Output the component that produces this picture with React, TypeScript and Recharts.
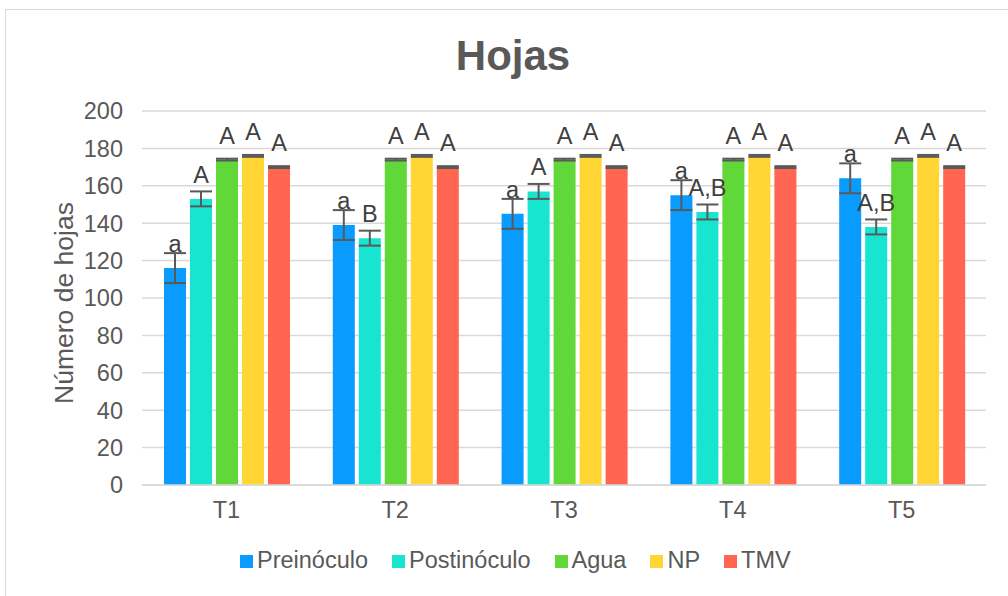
import { BarChart, Bar, XAxis, YAxis, CartesianGrid, Legend, ErrorBar, LabelList } from "recharts";

const categories = ["T1", "T2", "T3", "T4", "T5"];

const preinoculo = [116, 139, 145, 155, 164];
const preinoculoErr = [8, 8, 8, 8, 8];
const preinoculoLetters = ["a", "a", "a", "a", "a"];

const postinoculo = [153, 132, 157, 146, 138];
const postinoculoErr = [4, 4, 4, 4, 4];
const postinoculoLetters = ["A", "B", "A", "A,B", "A,B"];

const agua = [174, 174, 174, 174, 174];
const aguaErr = [0.5, 0.5, 0.5, 0.5, 0.5];
const aguaLetters = ["A", "A", "A", "A", "A"];

const np = [176, 176, 176, 176, 176];
const npErr = [0.5, 0.5, 0.5, 0.5, 0.5];
const npLetters = ["A", "A", "A", "A", "A"];

const tmv = [170, 170, 170, 170, 170];
const tmvErr = [0.5, 0.5, 0.5, 0.5, 0.5];
const tmvLetters = ["A", "A", "A", "A", "A"];

const yTicks = [0, 20, 40, 60, 80, 100, 120, 140, 160, 180, 200];

const series = [
  { key: "Preinóculo", values: preinoculo, err: preinoculoErr, letters: preinoculoLetters, color: "#0A9BFF" },
  { key: "Postinóculo", values: postinoculo, err: postinoculoErr, letters: postinoculoLetters, color: "#17E5CF" },
  { key: "Agua", values: agua, err: aguaErr, letters: aguaLetters, color: "#60D83A" },
  { key: "NP", values: np, err: npErr, letters: npLetters, color: "#FFD633" },
  { key: "TMV", values: tmv, err: tmvErr, letters: tmvLetters, color: "#FF6550" },
];

const seriesOrder = series.map((s) => s.key);

const data = categories.map((name, i) => {
  const row: Record<string, string | number> = { name };
  series.forEach((s) => {
    row[s.key] = s.values[i];
    row[s.key + "_err"] = s.err[i];
  });
  return row;
});

const textColor = "#595959";
const font = "'Liberation Sans', Arial, sans-serif";
const fs = 23.5;

function letterLabel(s: (typeof series)[number]) {
  return (props: any) => {
    const { x, y, width, index } = props;
    return (
      <text
        x={Number(x) + Number(width) / 2}
        y={Number(y) - 16}
        textAnchor="middle"
        fontSize={fs}
        fontFamily={font}
        fill="#404040"
      >
        {s.letters[index]}
      </text>
    );
  };
}

export default function App() {
  return (
    <div style={{ position: "absolute", left: 0, top: 0, width: 1008, height: 596, background: "#fff", overflow: "hidden" }}>
      <div
        style={{
          position: "absolute",
          left: 5,
          top: 9,
          width: 1020,
          height: 610,
          border: "1px solid #d9d9d9",
        }}
      />
      <div
        style={{
          position: "absolute",
          left: 0,
          top: 32,
          width: 1026,
          textAlign: "center",
          fontFamily: font,
          fontWeight: "bold",
          fontSize: 42,
          lineHeight: "48px",
          color: textColor,
        }}
      >
        Hojas
      </div>
      <div style={{ position: "absolute", left: 0, top: 0 }}>
        <BarChart
          width={1008}
          height={596}
          data={data}
          margin={{ top: 111, right: 22, bottom: 23, left: 0 }}
          barCategoryGap={22}
          barGap={4}
        >
          <CartesianGrid vertical={false} stroke="#d9d9d9" strokeWidth={1.5} />
          <XAxis
            dataKey="name"
            axisLine={{ stroke: "#d9d9d9", strokeWidth: 1.5 }}
            tickLine={false}
            tickMargin={10}
            height={62}
            tick={{ fontSize: fs, fontFamily: font, fill: textColor }}
          />
          <YAxis
            domain={[0, 200]}
            ticks={yTicks}
            width={142}
            axisLine={false}
            tickLine={false}
            tickMargin={13}
            tick={{ fontSize: fs, fontFamily: font, fill: textColor }}
            label={{
              content: (p: any) => {
                const vb = p.viewBox;
                const cx = vb.x + 73;
                const cy = vb.y + vb.height / 2 + 5;
                return (
                  <text
                    x={cx}
                    y={cy}
                    transform={`rotate(-90 ${cx} ${cy})`}
                    textAnchor="middle"
                    fontSize={26.5}
                    fontFamily={font}
                    fill={textColor}
                  >
                    Número de hojas
                  </text>
                );
              },
            }}
          />
          <Legend
            verticalAlign="bottom"
            align="left"
            iconType="square"
            iconSize={13}
            itemSorter={(item: any) => seriesOrder.indexOf(String(item.value))}
            wrapperStyle={{ left: 240, width: 700, fontSize: fs, fontFamily: font, lineHeight: "26px" }}
            formatter={(v: string) => <span style={{ color: textColor, marginRight: 14 }}>{v}</span>}
          />
          {series.map((s) => (
            <Bar key={s.key} dataKey={s.key} fill={s.color} isAnimationActive={false}>
              <ErrorBar dataKey={s.key + "_err"} width={11} stroke="#595959" strokeWidth={2} direction="y" />
              <LabelList dataKey={s.key} content={letterLabel(s)} />
            </Bar>
          ))}
        </BarChart>
      </div>
    </div>
  );
}
